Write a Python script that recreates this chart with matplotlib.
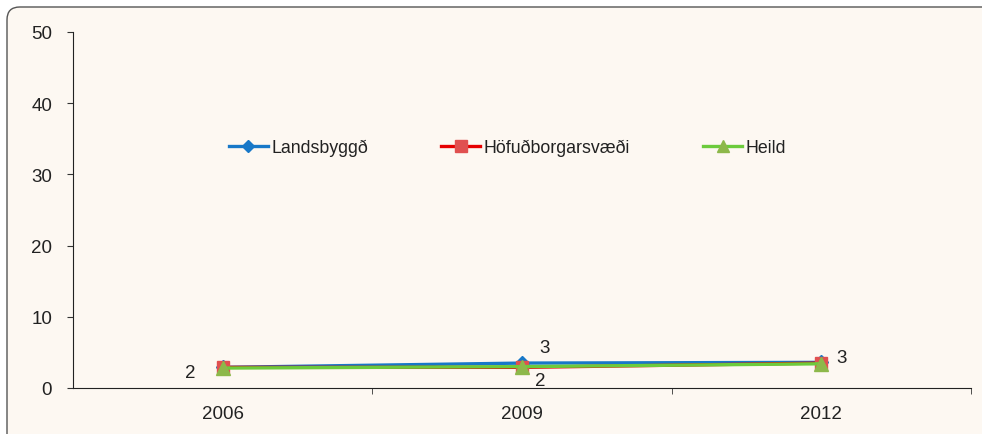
import matplotlib.pyplot as plt
from matplotlib.patches import FancyBboxPatch

years = ["2006", "2009", "2012"]
landsbyggd = [2.9, 3.5, 3.6]
hofudborg = [2.9, 2.9, 3.5]
heild = [2.8, 3.0, 3.4]

# data labels as shown in the chart (series index, point index, text)
labels = [(1, 0, "2"), (0, 1, "3"), (1, 1, "2"), (0, 2, "3")]

bg = "#FDF8F2"
fig = plt.figure(figsize=(9.82, 4.35), dpi=100)
fig.patch.set_facecolor("white")

# rounded frame around the chart
frame = FancyBboxPatch((7 / 982, -0.2), 1.1, (435 - 8) / 435 + 0.2,
                       boxstyle="round,pad=0,rounding_size=0.013",
                       transform=fig.transFigure, facecolor=bg,
                       edgecolor="#555555", linewidth=1.0,
                       mutation_aspect=982 / 435, zorder=-5)
fig.add_artist(frame)

ax = fig.add_axes([73 / 982, 46 / 435, (971 - 73) / 982, 356 / 435])
ax.set_facecolor("none")

x = range(len(years))
series = [
    ("Landsbyggð", landsbyggd, "#1878C8", "D", "#1878C8", 7),
    ("Höfuðborgarsvæði", hofudborg, "#E60000", "s", "#E05050", 9),
    ("Heild", heild, "#6CCB3C", "^", "#8DB84A", 10),
]
for name, vals, lc, mk, mc, ms in series:
    ax.plot(x, vals, color=lc, linewidth=2.4, marker=mk, markersize=ms,
            markerfacecolor=mc, markeredgecolor=mc, label=name)

all_vals = [landsbyggd, hofudborg, heild]
offsets = {(1, 0): (-23, -3.5), (0, 1): (16.5, 11), (1, 1): (13, -9.5), (0, 2): (14.5, 3.5)}
for si, pi, txt in labels:
    dx, dy = offsets[(si, pi)]
    ax.annotate(txt, (pi, all_vals[si][pi]), xytext=(dx, dy), textcoords="offset points",
                ha="center", va="center", fontsize=13.5, family="Liberation Sans",
                color="#222222")

ax.set_xlim(-0.5, 2.5)
ax.set_ylim(0, 50)
ax.set_yticks(range(0, 51, 10))
ax.set_xticks(list(x))
ax.set_xticklabels(years)
ax.set_xticks([0.5, 1.5, 2.5], minor=True)
ax.tick_params(axis="x", which="major", length=0, pad=12, labelsize=13.5)
ax.tick_params(axis="x", which="minor", length=4, direction="out", color="#333333")
ax.tick_params(axis="y", length=4, direction="out", pad=11, labelsize=13.5, color="#333333")
for lab in ax.get_xticklabels() + ax.get_yticklabels():
    lab.set_family("Liberation Sans")
    lab.set_color("#222222")

ax.spines["top"].set_visible(False)
ax.spines["right"].set_visible(False)
ax.spines["left"].set_color("#222222")
ax.spines["bottom"].set_color("#222222")

leg = ax.legend(loc="center", bbox_to_anchor=(0.484, 0.675), ncol=3, frameon=False,
                handlelength=2.2, handletextpad=0.2, columnspacing=4.1, markerscale=0.9,
                prop={"family": "Liberation Sans", "size": 12.8})
for t in leg.get_texts():
    t.set_color("#222222")

fig.savefig("out.png", dpi=100, facecolor=fig.get_facecolor())
